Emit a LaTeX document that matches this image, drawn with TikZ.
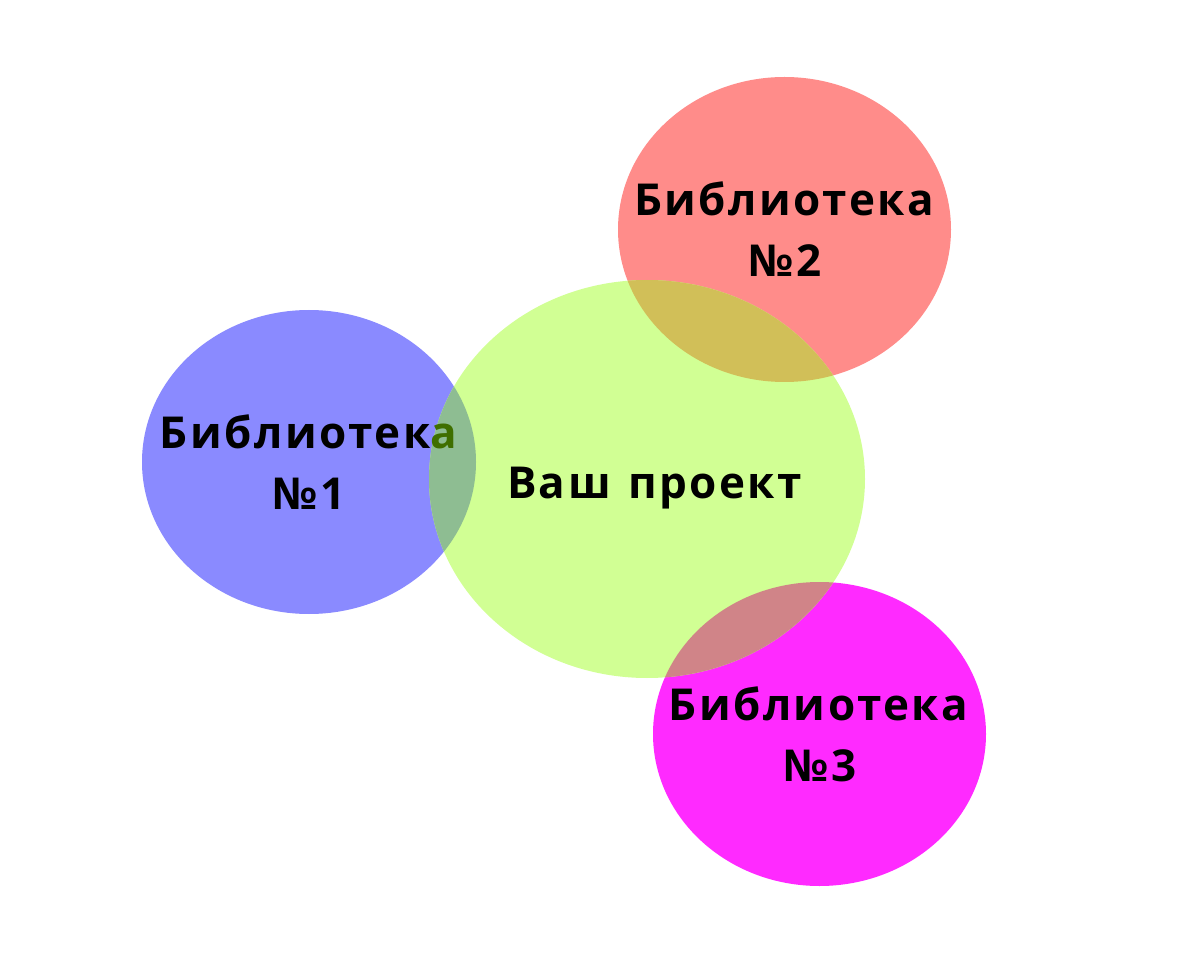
\documentclass[tikz,border=0pt]{standalone}
\usepackage{fontspec}
\setmainfont{Open Sans}[BoldFont={Open Sans Bold}]
\newfontfamily\labfont{Open Sans Bold}[LetterSpace=5.5]
\definecolor{blueC}{HTML}{8A8AFF}
\definecolor{greenC}{HTML}{D1FF94}
\definecolor{redC}{HTML}{FF8C8A}
\definecolor{magC}{HTML}{FF2AFF}
\definecolor{bgOv}{HTML}{8EBD92}
\definecolor{rgOv}{HTML}{D1BF58}
\definecolor{mgOv}{HTML}{D08488}
\definecolor{aGreen}{HTML}{3F6F00}
\tikzset{
  lab/.style={font=\labfont\fontsize{44}{44}\selectfont, text=black, inner sep=0pt, anchor=base},
}
\begin{document}
\begin{tikzpicture}[x=1pt,y=-1pt]
\useasboundingbox (0,0) rectangle (1200,965);
\fill[white] (0,0) rectangle (1200,965);
% ellipses
\def\eB{(309,462) ellipse [x radius=167pt, y radius=152pt]}
\def\eG{(647,479) ellipse [x radius=218pt, y radius=199pt]}
\def\eR{(784.5,229.5) ellipse [x radius=166.5pt, y radius=152.5pt]}
\def\eM{(819.5,734) ellipse [x radius=166.5pt, y radius=152pt]}
\fill[blueC] \eB;
\fill[redC] \eR;
\fill[magC] \eM;
\fill[greenC] \eG;
\begin{scope}
  \clip \eG;
  \fill[bgOv] \eB;
  \fill[rgOv] \eR;
  \fill[mgOv] \eM;
\end{scope}
% labels
\node[lab] (l1a) at (308.5,449) {Библиотек\textcolor{aGreen}{а}};
\node[lab] (l1b) at (309,509) {№\kern2pt1};
\node[lab] (main) at (654.5,499) {Ваш\hspace{4pt} проект};
\node[lab] (l2a) at (784,216) {Библиотека};
\node[lab] (l2b) at (785,277) {№\kern2pt2};
\node[lab] (l3a) at (818.5,720) {Библиотека};
\node[lab] (l3b) at (820,781) {№\kern2pt3};
\end{tikzpicture}
\end{document}
